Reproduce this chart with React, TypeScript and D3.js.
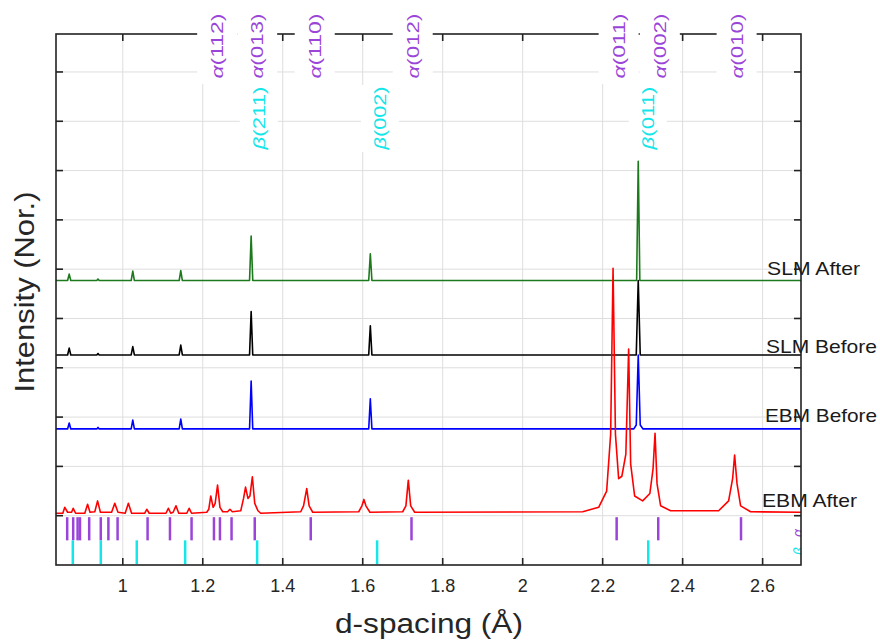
import * as d3 from 'd3';
import React from 'react';

// ---- chart data ----
const xTicks = [1, 1.2, 1.4, 1.6, 1.8, 2, 2.2, 2.4, 2.6];
const yTicks = [0, 1, 2, 3, 4, 5, 6, 7, 8, 9];

const seriesNames = ['SLM After', 'SLM Before', 'EBM Before', 'EBM After'];
const seriesColors = ['#1c7a1c', '#000000', '#0000ff', '#ff0000'];
const seriesOffsets = [4.77, 3.26, 1.76, 0.05];

// [d-spacing, intensity above own baseline]
const slmAfter: [number, number][] = [
  [0.833, 0], [0.862, 0], [0.866, 0.13], [0.87, 0], [0.935, 0], [0.938, 0.03], [0.941, 0],
  [1.021, 0], [1.025, 0.19], [1.029, 0], [1.141, 0], [1.145, 0.2], [1.149, 0],
  [1.317, 0], [1.321, 0.9], [1.325, 0], [1.615, 0], [1.619, 0.54], [1.623, 0],
  [2.285, 0], [2.289, 2.42], [2.293, 0], [2.696, 0],
];
const slmBefore: [number, number][] = [
  [0.833, 0], [0.862, 0], [0.866, 0.14], [0.87, 0], [0.935, 0], [0.938, 0.03], [0.941, 0],
  [1.021, 0], [1.025, 0.17], [1.029, 0], [1.141, 0], [1.145, 0.2], [1.149, 0],
  [1.317, 0], [1.321, 0.88], [1.325, 0], [1.615, 0], [1.619, 0.59], [1.623, 0],
  [2.284, 0], [2.289, 1.51], [2.294, 0], [2.696, 0],
];
const ebmBefore: [number, number][] = [
  [0.833, 0], [0.862, 0], [0.866, 0.12], [0.87, 0], [0.935, 0], [0.938, 0.03], [0.941, 0],
  [1.021, 0], [1.025, 0.18], [1.029, 0], [1.141, 0], [1.145, 0.2], [1.149, 0],
  [1.317, 0], [1.321, 0.97], [1.325, 0], [1.615, 0], [1.619, 0.61], [1.623, 0],
  [2.278, 0], [2.284, 0.08], [2.289, 1.5], [2.294, 0.08], [2.301, 0], [2.696, 0],
];
const ebmAfter: [number, number][] = [
  [0.833, 0], [0.85, 0], [0.855, 0.12], [0.862, 0.02], [0.872, 0.02], [0.876, 0.1], [0.882, 0],
  [0.905, 0], [0.912, 0.18], [0.918, 0.02], [0.93, 0.03], [0.937, 0.25], [0.944, 0.02],
  [0.972, 0.02], [0.98, 0.2], [0.988, 0.02], [1.006, 0], [1.014, 0.2], [1.022, 0],
  [1.055, 0], [1.06, 0.08], [1.066, 0], [1.108, 0], [1.114, 0.1], [1.12, 0],
  [1.126, 0.02], [1.133, 0.15], [1.14, 0], [1.16, 0], [1.166, 0.1], [1.172, 0],
  [1.21, 0.02], [1.215, 0.08], [1.22, 0.35], [1.226, 0.12], [1.231, 0.2], [1.237, 0.57],
  [1.243, 0.12], [1.25, 0.03], [1.262, 0.03], [1.268, 0.08], [1.274, 0.03],
  [1.295, 0.05], [1.302, 0.3], [1.307, 0.53], [1.313, 0.3], [1.318, 0.35], [1.324, 0.74],
  [1.33, 0.2], [1.338, 0.05], [1.345, 0], [1.445, 0.03], [1.452, 0.15], [1.46, 0.5],
  [1.466, 0.15], [1.475, 0.02], [1.59, 0.03], [1.598, 0.15], [1.603, 0.28], [1.608, 0.15],
  [1.618, 0.02], [1.7, 0.03], [1.708, 0.15], [1.714, 0.67], [1.72, 0.15], [1.73, 0.02],
  [2.15, 0.03], [2.19, 0.12], [2.21, 0.45], [2.22, 1.6], [2.226, 4.97], [2.232, 1.6],
  [2.24, 0.7], [2.248, 0.75], [2.258, 1.2], [2.265, 3.33], [2.27, 1.0], [2.28, 0.35],
  [2.3, 0.25], [2.318, 0.4], [2.326, 0.9], [2.331, 1.62], [2.336, 0.6], [2.345, 0.15],
  [2.37, 0.05], [2.49, 0.05], [2.515, 0.25], [2.525, 0.7], [2.53, 1.18], [2.536, 0.6],
  [2.545, 0.15], [2.57, 0.03], [2.696, 0.02],
];
const seriesData = [slmAfter, slmBefore, ebmBefore, ebmAfter];

// reflection markers
const alphaRefs = [0.861, 0.876, 0.887, 0.893, 0.916, 0.945, 0.964, 0.987, 1.062, 1.118,
  1.172, 1.228, 1.243, 1.272, 1.33, 1.47, 1.722, 2.235, 2.339, 2.546];
const betaRefs = [0.875, 0.945, 1.035, 1.156, 1.336, 1.636, 2.314];

const alphaLabelPos = [1.236, 1.336, 1.48, 1.725, 2.24, 2.343, 2.535];
const alphaLabelHkl = ['(112)', '(013)', '(110)', '(012)', '(011)', '(002)', '(010)'];
const betaLabelPos = [1.34, 1.643, 2.313];
const betaLabelHkl = ['(211)', '(002)', '(011)'];

const seriesLabelLen = [93, 111, 112, 95];

const purple = '#9a45d8';
const cyan = '#14e6ea';
const axisColor = '#222222';
const gridColor = '#dedede';

const left = 56, right = 801, top = 34, bottom = 565;

export default function App() {
  const x = d3.scaleLinear().domain([0.833, 2.696]).range([left, right]);
  const y = d3.scaleLinear().domain([-1, 9.77]).range([bottom, top]);

  const font = '"Liberation Sans", Arial, sans-serif';

  return (
    <svg width={880} height={641} style={{ position: 'absolute', left: 0, top: 0, background: '#fff' }}
      fontFamily={font}>
      <defs>
        <clipPath id="plot"><rect x={left} y={top} width={right - left} height={bottom - top} /></clipPath>
      </defs>
      <rect x={0} y={0} width={880} height={641} fill="#fff" />

      {/* grid */}
      <g stroke={gridColor} strokeWidth={1}>
        {xTicks.map(t => <line key={'gx' + t} x1={x(t)} x2={x(t)} y1={top} y2={bottom} />)}
        {yTicks.map(t => <line key={'gy' + t} x1={left} x2={right} y1={y(t)} y2={y(t)} />)}
      </g>

      {/* spectra */}
      <g clipPath="url(#plot)" fill="none" strokeLinejoin="round">
        {seriesData.map((data, i) => {
          const line = d3.line<[number, number]>()
            .x(p => x(p[0]))
            .y(p => y(p[1] + seriesOffsets[i]));
          return <path key={seriesNames[i]} d={line(data) || ''} stroke={seriesColors[i]} strokeWidth={1.6} />;
        })}
      </g>

      {/* reflection sticks */}
      <g clipPath="url(#plot)" strokeWidth={2.5}>
        {alphaRefs.map((d, i) => (
          <line key={'a' + i} x1={x(d)} x2={x(d)} y1={y(-0.03)} y2={y(-0.5)} stroke={purple} />
        ))}
        {betaRefs.map((d, i) => (
          <line key={'b' + i} x1={x(d)} x2={x(d)} y1={y(-0.5)} y2={y(-0.98)} stroke={cyan} />
        ))}
        <text transform={`translate(${x(2.69) + 4},${y(-0.35)}) rotate(-90)`} textAnchor="middle"
          fontSize={14} fill={purple} fontStyle="italic">α</text>
        <text transform={`translate(${x(2.69) + 5},${y(-0.72)}) rotate(-90)`} textAnchor="middle"
          fontSize={14} fill={cyan} fontStyle="italic">β</text>
      </g>

      {/* series labels */}
      {seriesNames.map((name, i) => {
        const pos = [[767, 275], [766, 353], [765, 422], [762, 507]][i];
        return (
          <text key={name} x={pos[0]} y={pos[1]} fontSize={18.5} fill="#1a1a1a"
            textLength={seriesLabelLen[i]} lengthAdjust="spacingAndGlyphs">{name}</text>
        );
      })}

      {/* axes frame and ticks */}
      <g stroke={axisColor} strokeWidth={1.6} fill="none">
        <rect x={left} y={top} width={right - left} height={bottom - top} />
        {xTicks.map(t => (
          <g key={'tx' + t}>
            <line x1={x(t)} x2={x(t)} y1={bottom} y2={bottom - 7} />
            <line x1={x(t)} x2={x(t)} y1={top} y2={top + 7} />
          </g>
        ))}
        {yTicks.map(t => (
          <g key={'ty' + t}>
            <line x1={left} x2={left + 7} y1={y(t)} y2={y(t)} />
            <line x1={right} x2={right - 7} y1={y(t)} y2={y(t)} />
          </g>
        ))}
      </g>

      {/* tick labels */}
      {xTicks.map(t => (
        <text key={'lx' + t} x={x(t)} y={592} textAnchor="middle" fontSize={18} fill="#262626">
          {d3.format('~g')(t)}
        </text>
      ))}

      {/* axis titles */}
      <text x={429} y={633} textAnchor="middle" fontSize={27} fill="#262626"
        textLength={188} lengthAdjust="spacingAndGlyphs">d-spacing (Å)</text>
      <text transform="translate(34,292) rotate(-90)" textAnchor="middle" fontSize={27} fill="#262626"
        textLength={201} lengthAdjust="spacingAndGlyphs">Intensity (Nor.)</text>

      {/* peak labels with white backgrounds */}
      {alphaLabelPos.map((d, i) => (
        <rect key={'ab' + i} x={x(d) - 20} y={0} width={40} height={84} fill="#fff" />
      ))}
      {betaLabelPos.map((d, i) => (
        <rect key={'bb' + i} x={x(d) - 19} y={85} width={38} height={67} fill="#fff" />
      ))}
      {alphaLabelPos.map((d, i) => (
        <text key={'al' + i} transform={`translate(${x(d) + 6},46) rotate(-90)`} textAnchor="middle"
          fontSize={17} fill={purple} textLength={65} lengthAdjust="spacingAndGlyphs">
          <tspan fontStyle="italic">α</tspan>{alphaLabelHkl[i]}
        </text>
      ))}
      {betaLabelPos.map((d, i) => (
        <text key={'bl' + i} transform={`translate(${x(d) + 6},118) rotate(-90)`} textAnchor="middle"
          fontSize={17} fill={cyan} textLength={63} lengthAdjust="spacingAndGlyphs">
          <tspan fontStyle="italic">β</tspan>{betaLabelHkl[i]}
        </text>
      ))}
    </svg>
  );
}
